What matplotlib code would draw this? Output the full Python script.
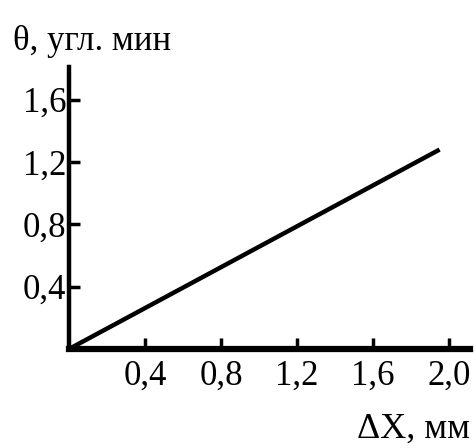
import matplotlib
matplotlib.use('Agg')
import matplotlib.pyplot as plt

# data
dx = [0.0, 1.95]
theta = [0.0, 1.28]
xticks = [0.4, 0.8, 1.2, 1.6, 2.0]
yticks = [0.4, 0.8, 1.2, 1.6]
xlabels = ["0,4", "0,8", "1,2", "1,6", "2,0"]
ylabels = ["0,4", "0,8", "1,2", "1,6"]

plt.rcParams['font.family'] = ['Liberation Serif', 'DejaVu Serif']

fig = plt.figure(figsize=(4.76, 4.48), dpi=100)
ax = fig.add_axes([69 / 476, 99 / 448, 401 / 476, 282 / 448])
ax.plot(dx, theta, color='black', linewidth=3.2, solid_capstyle='butt')
ax.set_xlim(0, 2.11)
ax.set_ylim(0, 1.81)

ax.spines['top'].set_visible(False)
ax.spines['right'].set_visible(False)
ax.spines['bottom'].set_linewidth(4.5)
ax.spines['left'].set_linewidth(3.2)

ax.set_xticks(xticks)
ax.set_xticklabels(xlabels)
ax.set_yticks(yticks)
ax.set_yticklabels(ylabels)
ax.tick_params(direction='in', length=8, width=2.5, labelsize=25)
ax.tick_params(axis='x', pad=8)
ax.tick_params(axis='y', pad=2)

fig.text(13 / 476, 1 - 50 / 448, "θ, угл. мин", fontsize=25, ha='left', va='baseline')
fig.text(470 / 476, 1 - 438 / 448, "ΔX, мм", fontsize=26, ha='right', va='baseline')

fig.savefig('out.png', dpi=100)
